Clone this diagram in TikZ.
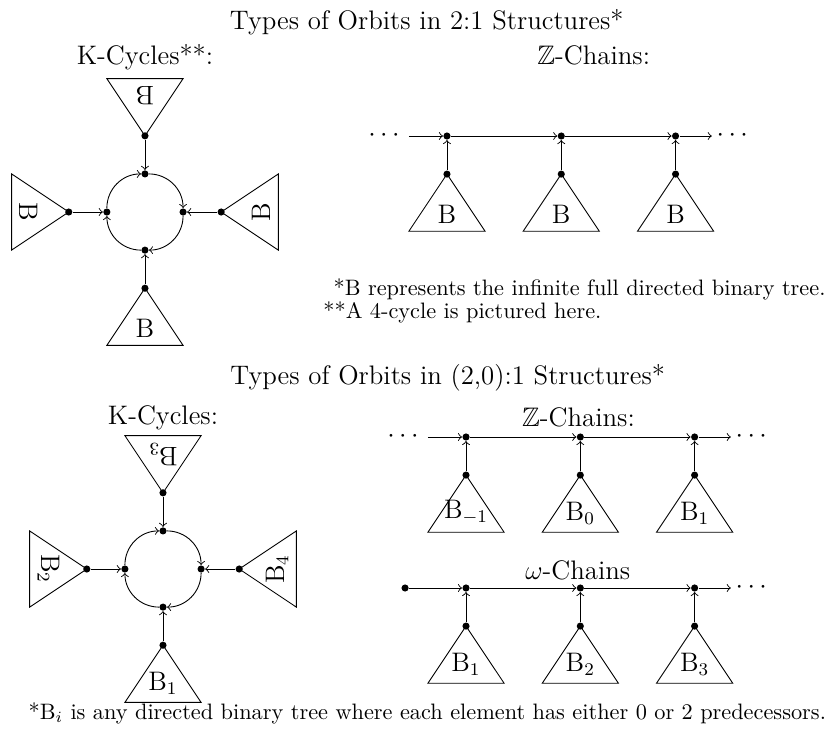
\documentclass[tikz,border=0pt]{standalone}
\usepackage{amsmath,amssymb}
\usepackage{tikz}
\usetikzlibrary{calc}
\tikzset{
  dot/.style={circle,fill=black,inner sep=0pt,minimum size=3.2pt},
  ttl/.style={font=\large,anchor=base},
  lab/.style={font=\large,anchor=south},
  ell/.style={font=\large,inner sep=2pt},
  note/.style={anchor=base west}
}
% tree triangle hanging from a root: root, angle, name, label
\newcommand{\bintree}[4]{
  \begin{scope}[shift={(#1)},rotate=#2]
    \draw (0,0) -- (-\twdt,-\thgt) -- (\twdt,-\thgt) -- cycle;
    \node[lab,rotate=#2] (#3) at (0,-\thgt) {#4};
  \end{scope}}

\begin{document}
\begin{tikzpicture}
  % drawing parameters
  \pgfmathsetmacro{\crad}{0.6} % radius of cycle
  \pgfmathsetmacro{\stem}{0.6} % length of edge from root of tree
  \pgfmathsetmacro{\thgt}{0.9} % height of tree
  \pgfmathsetmacro{\twdt}{0.6} % half width of tree
  \pgfmathsetmacro{\cdst}{1.8} % distance in between chain elements
  \pgfmathsetmacro{\tail}{0.57} % length of last arrow of chain

  \useasboundingbox (0,0) rectangle (13.087,-11.654);

  % upper titles
  \node[ttl] (ttl1) at (6.72,-0.457) {Types of Orbits in 2:1 Structures*};
  \node[ttl] (kttl1) at (2.283,-1.02) {K-Cycles**:};
  \node[ttl] (zttl1) at (9.35,-1.02) {$\mathbb{Z}$-Chains:};

  % upper cycle
  \coordinate (k1) at (2.283,-3.339);
  \node[dot] (k1t) at ([shift={(90:\crad)}]k1) {};
  \node[dot] (k1r) at ([shift={(0:\crad)}]k1) {};
  \node[dot] (k1b) at ([shift={(270:\crad)}]k1) {};
  \node[dot] (k1l) at ([shift={(180:\crad)}]k1) {};
  \draw[->] (k1l) to[bend left=45] (k1t);
  \draw[->] (k1t) to[bend left=45] (k1r);
  \draw[->] (k1r) to[bend left=45] (k1b);
  \draw[->] (k1b) to[bend left=45] (k1l);

  % upper cycle trees
  \node[dot] (k1tt) at ([shift={(90:{\crad+\stem})}]k1) {};
  \node[dot] (k1rr) at ([shift={(0:{\crad+\stem})}]k1) {};
  \node[dot] (k1bb) at ([shift={(270:{\crad+\stem})}]k1) {};
  \node[dot] (k1ll) at ([shift={(180:{\crad+\stem})}]k1) {};
  \bintree{k1tt}{180}{k1ttl}{B}
  \bintree{k1rr}{90}{k1rrl}{B}
  \bintree{k1bb}{0}{k1bbl}{B}
  \bintree{k1ll}{-90}{k1lll}{B}
  \draw[->] (k1tt) -- (k1t);
  \draw[->] (k1rr) -- (k1r);
  \draw[->] (k1bb) -- (k1b);
  \draw[->] (k1ll) -- (k1l);

  % upper chain
  \node[dot] (z1a) at (7.039,-2.142) {};
  \node[dot] (z1b) at ([shift={(\cdst,0)}]z1a) {};
  \node[dot] (z1c) at ([shift={(2*\cdst,0)}]z1a) {};
  \node[ell,anchor=east] (z1dl) at ([shift={(-\stem,0)}]z1a) {$\cdots$};
  \node[ell,anchor=west] (z1dr) at ([shift={(\tail,0)}]z1c) {$\cdots$};
  \draw[->] (z1dl) -- (z1a);
  \draw[->] (z1a) -- (z1b);
  \draw[->] (z1b) -- (z1c);
  \draw[->] (z1c) -- (z1dr);
  \node[dot] (z1ar) at ([shift={(0,-\stem)}]z1a) {};
  \node[dot] (z1br) at ([shift={(0,-\stem)}]z1b) {};
  \node[dot] (z1cr) at ([shift={(0,-\stem)}]z1c) {};
  \bintree{z1ar}{0}{z1al}{B}
  \bintree{z1br}{0}{z1bl}{B}
  \bintree{z1cr}{0}{z1cl}{B}
  \draw[->] (z1ar) -- (z1a);
  \draw[->] (z1br) -- (z1b);
  \draw[->] (z1cr) -- (z1c);

  % upper notes
  \node[note] (nt1) at (5.13,-4.646) {*B represents the infinite full directed binary tree.};
  \node[note] (nt2) at (4.97,-5.008) {**A 4-cycle is pictured here.};

  % lower titles
  \node[ttl] (ttl2) at (7.05,-6.05) {Types of Orbits in (2,0):1 Structures*};
  \node[ttl] (kttl2) at (2.567,-6.69) {K-Cycles:};
  \node[ttl] (zttl2) at (9.11,-6.72) {$\mathbb{Z}$-Chains:};
  \node[ttl] (wttl2) at (9.10,-9.12) {$\omega$-Chains};

  % lower cycle
  \coordinate (k2) at (2.567,-8.961);
  \node[dot] (k2t) at ([shift={(90:\crad)}]k2) {};
  \node[dot] (k2r) at ([shift={(0:\crad)}]k2) {};
  \node[dot] (k2b) at ([shift={(270:\crad)}]k2) {};
  \node[dot] (k2l) at ([shift={(180:\crad)}]k2) {};
  \draw[->] (k2l) to[bend left=45] (k2t);
  \draw[->] (k2t) to[bend left=45] (k2r);
  \draw[->] (k2r) to[bend left=45] (k2b);
  \draw[->] (k2b) to[bend left=45] (k2l);

  % lower cycle trees
  \node[dot] (k2tt) at ([shift={(90:{\crad+\stem})}]k2) {};
  \node[dot] (k2rr) at ([shift={(0:{\crad+\stem})}]k2) {};
  \node[dot] (k2bb) at ([shift={(270:{\crad+\stem})}]k2) {};
  \node[dot] (k2ll) at ([shift={(180:{\crad+\stem})}]k2) {};
  \bintree{k2tt}{180}{k2ttl}{B$_3$}
  \bintree{k2rr}{90}{k2rrl}{B$_4$}
  \bintree{k2bb}{0}{k2bbl}{B$_1$}
  \bintree{k2ll}{-90}{k2lll}{B$_2$}
  \draw[->] (k2tt) -- (k2t);
  \draw[->] (k2rr) -- (k2r);
  \draw[->] (k2bb) -- (k2b);
  \draw[->] (k2ll) -- (k2l);

  % lower Z chain
  \node[dot] (z2a) at (7.339,-6.882) {};
  \node[dot] (z2b) at ([shift={(\cdst,0)}]z2a) {};
  \node[dot] (z2c) at ([shift={(2*\cdst,0)}]z2a) {};
  \node[ell,anchor=east] (z2dl) at ([shift={(-\stem,0)}]z2a) {$\cdots$};
  \node[ell,anchor=west] (z2dr) at ([shift={(\tail,0)}]z2c) {$\cdots$};
  \draw[->] (z2dl) -- (z2a);
  \draw[->] (z2a) -- (z2b);
  \draw[->] (z2b) -- (z2c);
  \draw[->] (z2c) -- (z2dr);
  \node[dot] (z2ar) at ([shift={(0,-\stem)}]z2a) {};
  \node[dot] (z2br) at ([shift={(0,-\stem)}]z2b) {};
  \node[dot] (z2cr) at ([shift={(0,-\stem)}]z2c) {};
  \bintree{z2ar}{0}{z2al}{B$_{-1}$}
  \bintree{z2br}{0}{z2bl}{B$_0$}
  \bintree{z2cr}{0}{z2cl}{B$_1$}
  \draw[->] (z2ar) -- (z2a);
  \draw[->] (z2br) -- (z2b);
  \draw[->] (z2cr) -- (z2c);

  % lower omega chain
  \node[dot] (w2a) at (7.339,-9.260) {};
  \node[dot] (w2b) at ([shift={(\cdst,0)}]w2a) {};
  \node[dot] (w2c) at ([shift={(2*\cdst,0)}]w2a) {};
  \node[dot] (w2s) at ([shift={(-0.96,0)}]w2a) {};
  \node[ell,anchor=west] (w2dr) at ([shift={(\tail,0)}]w2c) {$\cdots$};
  \draw[->] (w2s) -- (w2a);
  \draw[->] (w2a) -- (w2b);
  \draw[->] (w2b) -- (w2c);
  \draw[->] (w2c) -- (w2dr);
  \node[dot] (w2ar) at ([shift={(0,-\stem)}]w2a) {};
  \node[dot] (w2br) at ([shift={(0,-\stem)}]w2b) {};
  \node[dot] (w2cr) at ([shift={(0,-\stem)}]w2c) {};
  \bintree{w2ar}{0}{w2al}{B$_1$}
  \bintree{w2br}{0}{w2bl}{B$_2$}
  \bintree{w2cr}{0}{w2cl}{B$_3$}
  \draw[->] (w2ar) -- (w2a);
  \draw[->] (w2br) -- (w2b);
  \draw[->] (w2cr) -- (w2c);

  % lower note
  \node[anchor=base] (nt3) at (6.73,-11.33) {*B$_i$ is any directed binary tree where each element has either 0 or 2 predecessors.};
\end{tikzpicture}
\end{document}
